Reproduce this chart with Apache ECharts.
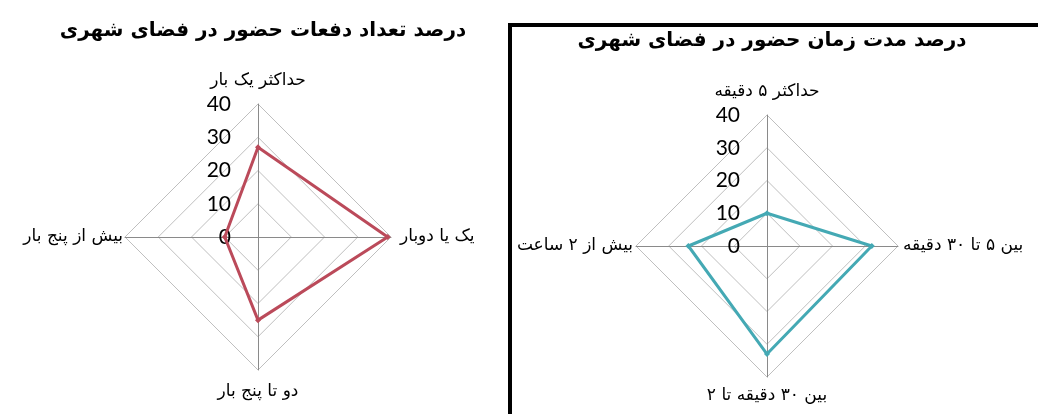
<!DOCTYPE html>
<html>
<head>
<meta charset="utf-8">
<script src="https://cdn.jsdelivr.net/npm/echarts@6/dist/echarts.min.js"></script>
<style>
  html, body { margin: 0; padding: 0; background: #fff; }
  #chart { width: 1038px; height: 414px; }
</style>
</head>
<body>
<div id="chart"></div>
<script>
// left chart: number of visits (order: top, left, bottom, right)
var visitNames = ['حداکثر یک بار', 'بیش از پنج بار', 'دو تا پنج بار', 'یک یا دوبار'];
var visitValues = [27, 10, 25, 39];

// right chart: duration of stay
var durationNames = ['حداکثر ۵ دقیقه', 'بیش از ۲ ساعت', 'بین ۳۰ دقیقه تا ۲', 'بین ۵ تا ۳۰ دقیقه'];
var durationValues = [10, 24, 33, 32];

var titles = ['درصد تعداد دفعات حضور در فضای شهری', 'درصد مدت زمان حضور در فضای شهری'];
var axisMax = 40;

var fa = '"DejaVu Sans", sans-serif';
var num = 'Lato, "Open Sans", sans-serif';

function indicators(names, gaps) {
	return names.map(function (n, i) {
		// only the first (top) axis carries the value labels
		return { name: n, max: axisMax, min: 0, nameGap: gaps[i], axisLabel: { show: i === 0 } };
	});
}

function radarOpt(center, radius, names, gaps) {
	return {
		center: center,
		radius: radius,
		shape: 'polygon',
		startAngle: 90,
		splitNumber: 4,
		indicator: indicators(names, gaps),
		axisName: { color: '#000', fontFamily: fa, fontSize: 17 },
		splitArea: { show: false },
		splitLine: { lineStyle: { color: '#bfbfbf', width: 1 } },
		axisLine: { lineStyle: { color: '#8a8a8a', width: 1 } },
		axisTick: { show: false },
		axisLabel: { show: false, color: '#000', fontFamily: num, fontSize: 21, margin: 27 }
	};
}

var myChart = echarts.init(document.getElementById('chart'));
myChart.setOption({
	backgroundColor: '#fff',
	animation: false,
	title: [{
		text: titles[0], left: 258, top: 16, textAlign: 'center',
		textStyle: { fontFamily: fa, fontWeight: 'bold', fontSize: 20, color: '#000' }
	}, {
		text: titles[1], left: 767, top: 26, textAlign: 'center',
		textStyle: { fontFamily: fa, fontWeight: 'bold', fontSize: 20, color: '#000' }
	}],
	graphic: [{
		type: 'rect',
		shape: { x: 510, y: 25, width: 620, height: 500 },
		style: { fill: 'none', stroke: '#000', lineWidth: 4 },
		z: 100
	}],
	radar: [
		radarOpt([258, 237], 133, visitNames, [15, 2, 13, 9]),
		radarOpt([767, 246], 131, durationNames, [15, 3, 10, 5])
	],
	series: [{
		type: 'radar',
		radarIndex: 0,
		symbol: 'diamond',
		symbolSize: 6,
		lineStyle: { color: '#bb4a5a', width: 3 },
		itemStyle: { color: '#bb4a5a' },
		data: [{ value: visitValues }]
	}, {
		type: 'radar',
		radarIndex: 1,
		symbol: 'diamond',
		symbolSize: 6,
		lineStyle: { color: '#44a9b4', width: 3 },
		itemStyle: { color: '#44a9b4' },
		data: [{ value: durationValues }]
	}]
});
</script>
</body>
</html>
